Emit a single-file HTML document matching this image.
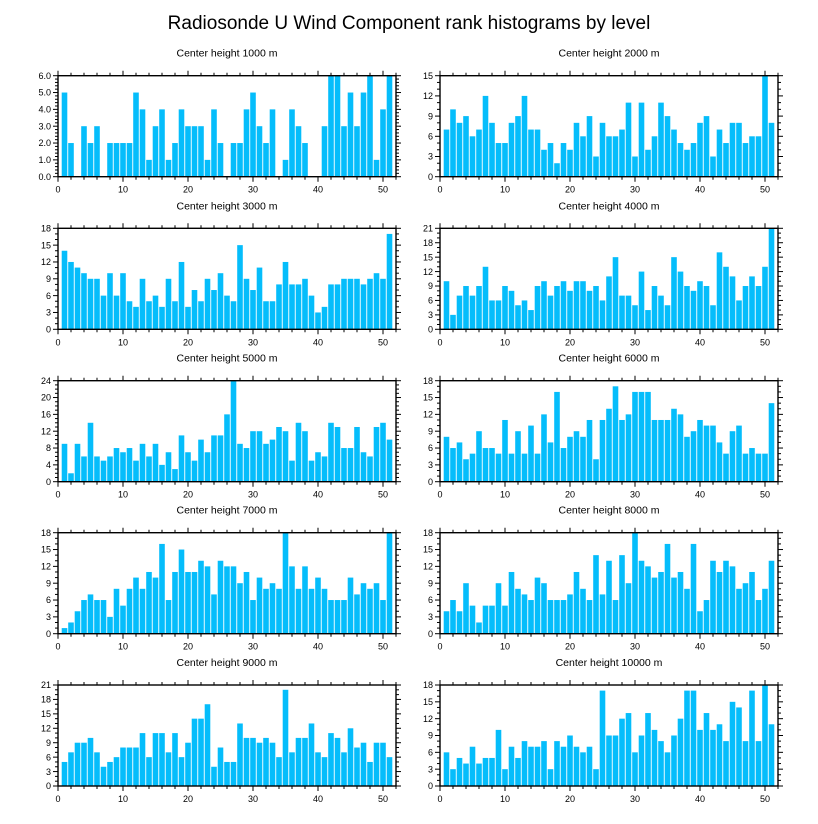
<!DOCTYPE html>
<html><head><meta charset="utf-8">
<style>
html,body{margin:0;padding:0;background:#fff;}
svg{display:block;font-family:"Liberation Sans",Arial,sans-serif;}
</style></head>
<body>
<svg id="chart" width="818" height="824" viewBox="0 0 818 824">
<text x="409" y="29" text-anchor="middle" font-size="19" fill="#000">Radiosonde U Wind Component rank histograms by level</text>
</svg>
<script>
const levels = ["1000","2000","3000","4000","5000","6000","7000","8000","9000","10000"];
const h1000 = [5,2,0,3,2,3,0,2,2,2,2,5,4,1,3,4,1,2,4,3,3,3,1,4,2,0,2,2,4,5,3,2,4,0,1,4,3,2,0,0,3,6,6,3,5,3,5,6,1,4,6];
const h2000 = [7,10,8,9,6,7,12,8,5,5,8,9,12,7,7,4,5,2,5,4,8,6,9,3,8,6,6,7,11,3,11,4,6,11,9,7,5,4,5,8,9,3,7,5,8,8,5,6,6,15,8];
const h3000 = [14,12,11,10,9,9,6,10,6,10,5,4,9,5,6,4,9,5,12,4,7,5,9,7,10,6,5,15,9,7,11,5,5,8,12,8,8,9,6,3,4,8,8,9,9,9,8,9,10,9,17];
const h4000 = [10,3,7,9,7,9,13,6,6,9,8,5,6,4,9,10,7,9,10,8,10,10,8,9,6,11,15,7,7,5,12,4,9,7,5,15,12,9,8,10,9,5,16,13,11,6,9,11,9,13,21];
const h5000 = [9,2,9,6,14,6,5,6,8,7,8,5,9,6,9,4,7,3,11,7,5,10,7,11,11,16,24,9,8,12,12,9,10,13,12,5,14,12,5,7,6,14,13,8,8,13,7,6,13,14,10];
const h6000 = [8,6,7,4,5,9,6,6,5,11,5,9,5,10,5,12,7,16,6,8,9,8,11,4,11,13,17,11,12,16,16,16,11,11,11,13,12,8,9,11,10,10,7,5,9,10,5,6,5,5,14];
const h7000 = [1,2,4,6,7,6,6,3,8,5,8,10,8,11,10,16,6,11,15,11,11,13,12,7,13,12,12,9,11,6,10,8,9,8,18,12,8,12,8,10,8,6,6,6,10,7,9,8,9,6,18];
const h8000 = [4,6,4,9,5,2,5,5,9,5,11,8,7,6,10,9,6,6,6,7,11,8,6,14,7,13,6,14,9,18,13,12,10,11,16,10,11,8,16,4,6,13,11,13,12,8,9,11,6,8,13];
const h9000 = [5,7,9,9,10,7,4,5,6,8,8,8,11,6,11,11,7,11,6,9,14,14,17,4,8,5,5,13,10,10,9,10,9,6,20,7,10,10,13,7,6,11,10,7,12,8,9,5,9,9,6];
const h10000 = [6,3,5,4,7,4,5,5,10,3,7,5,8,7,7,8,3,8,7,9,7,6,7,3,17,9,9,12,13,6,9,13,10,8,6,9,12,17,17,10,13,10,11,8,15,14,8,17,8,18,11];
const series = [h1000,h2000,h3000,h4000,h5000,h6000,h7000,h8000,h9000,h10000];
const yMax = [6,15,18,21,24,18,18,18,21,18];
const yStep = [1,3,3,3,4,3,3,3,3,3];
const xTicks = [0,10,20,30,40,50];

const NS = "http://www.w3.org/2000/svg";
const svg = document.getElementById("chart");
const colLeft = [58, 440], plotW = 338, plotH = 101;
const rowTop = [75.7, 228.3, 380.7, 532.7, 685];
const XMAX = 52;

function mk(tag, attrs, parent){
  const e = document.createElementNS(NS, tag);
  for (const k in attrs) e.setAttribute(k, attrs[k]);
  parent.appendChild(e);
  return e;
}

series.forEach((vals, p) => {
  const x0 = colLeft[p % 2], y0 = rowTop[Math.floor(p / 2)];
  const sx = v => x0 + v / XMAX * plotW;
  const sy = v => y0 + plotH - v / yMax[p] * plotH;
  const g = mk("g", {}, svg);
  
  

  const t = mk("text", {x: x0 + plotW / 2, y: y0 - 19, "text-anchor": "middle", "font-size": "10.5"}, g);
  t.textContent = "Center height " + levels[p] + " m";
  
  

  vals.forEach((v, i) => {
    const c = i + 1;
    const r = mk("rect", {x: sx(c - 0.43), y: sy(v), width: sx(c + 0.43) - sx(c - 0.43), height: sy(0) - sy(v), fill: "#05bdfb"}, g);
    
    
  });

  const f = mk("rect", {x: x0, y: y0, width: plotW, height: plotH, fill: "none", stroke: "#000", "stroke-width": "1.4"}, g);
  
  

  // x ticks
  for (let v = 0; v <= XMAX; v += 2) {
    const major = v % 10 === 0;
    const L = major ? 5 : 3;
    const X = sx(v);
    mk("line", {x1: X, x2: X, y1: y0 + plotH, y2: y0 + plotH + L, stroke: "#000", "stroke-width": "1"}, g);
    mk("line", {x1: X, x2: X, y1: y0, y2: y0 - L, stroke: "#000", "stroke-width": "1"}, g);
  }
  xTicks.forEach(v => {
    const l = mk("text", {x: sx(v), y: y0 + plotH + 16, "text-anchor": "middle", "font-size": "9"}, g);
    l.textContent = v;
    
    
  });
  // y ticks
  const st = yStep[p];
  const nMinor = st === 1 ? 5 : (st === 4 ? 4 : 3);
  const ms = st / nMinor;
  for (let k = 0; k * ms <= yMax[p] + 1e-9; k++) {
    const v = k * ms;
    const major = k % nMinor === 0;
    const L = major ? 5 : 3;
    const Y = sy(v);
    mk("line", {x1: x0, x2: x0 - L, y1: Y, y2: Y, stroke: "#000", "stroke-width": "1"}, g);
    mk("line", {x1: x0 + plotW, x2: x0 + plotW + L, y1: Y, y2: Y, stroke: "#000", "stroke-width": "1"}, g);
  }
  for (let v = 0; v <= yMax[p] + 1e-9; v += st) {
    const l = mk("text", {x: x0 - 7, y: sy(v) + 3.2, "text-anchor": "end", "font-size": "9"}, g);
    l.textContent = st === 1 ? v.toFixed(1) : v;
    
    
  }
});
</script>
</body></html>
